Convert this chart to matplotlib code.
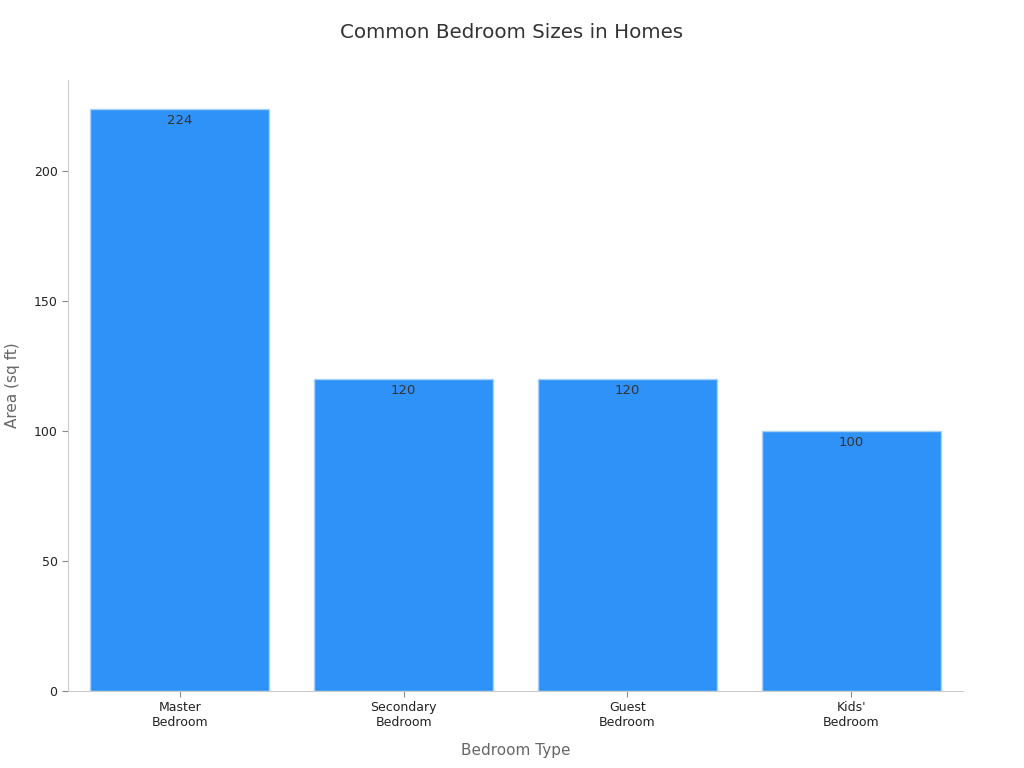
import matplotlib
matplotlib.use("Agg")
import matplotlib.pyplot as plt

categories = ["Master\nBedroom", "Secondary\nBedroom", "Guest\nBedroom", "Kids'\nBedroom"]
areas = [224, 120, 120, 100]

fig = plt.figure(figsize=(10.24, 7.68), dpi=100)
ax = fig.add_axes([0.0664, 0.1003, 0.874, 0.7955])

x = range(len(categories))
bars = ax.bar(x, areas, width=0.8, color="#2f92f8", edgecolor="#a9d2fb", linewidth=1)
for xi, v in zip(x, areas):
    ax.text(xi, v - 2.0, str(v), ha="center", va="top", fontsize=9.5, color="#333333")

ax.set_xlim(-0.5, 3.5)
ax.set_ylim(0, 235.2)
ax.set_xticks(list(x))
ax.set_xticklabels(categories, fontsize=9, color="#222222")
ax.set_yticks([0, 50, 100, 150, 200])
ax.tick_params(axis="y", labelsize=9, colors="#222222", length=4, color="#888888")
ax.tick_params(axis="x", length=4, color="#888888")
for s in ["top", "right"]:
    ax.spines[s].set_visible(False)
for s in ["left", "bottom"]:
    ax.spines[s].set_color("#cccccc")
ax.set_xlabel("Bedroom Type", fontsize=11, color="#666666", labelpad=10)
ax.set_ylabel("Area (sq ft)", fontsize=11, color="#666666", labelpad=10)
fig.suptitle("Common Bedroom Sizes in Homes", fontsize=14.3, color="#333333", y=0.97)

fig.savefig("out.png", dpi=100)
